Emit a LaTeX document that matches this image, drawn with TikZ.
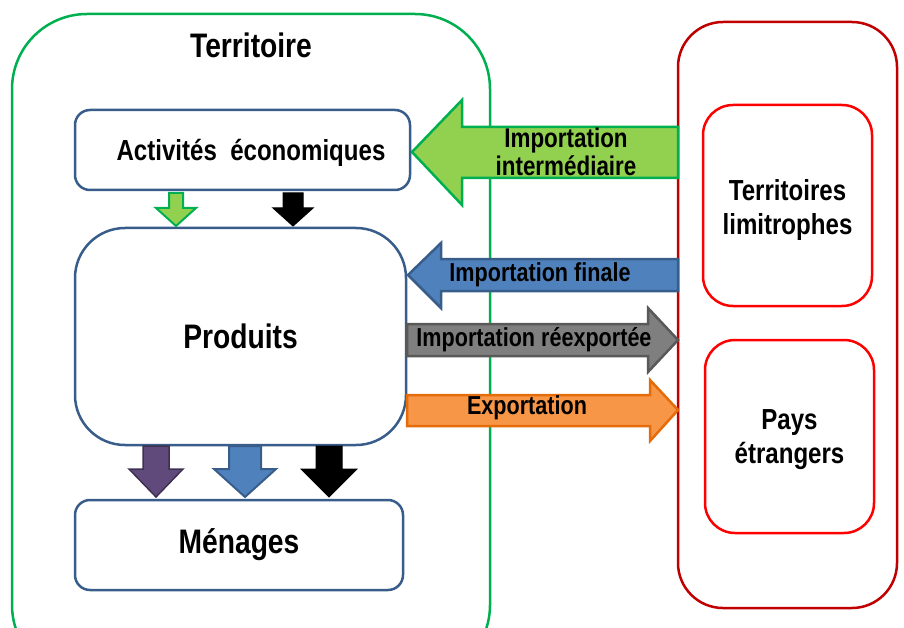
\documentclass[tikz,border=0pt]{standalone}
\usepackage{fontspec}
\setmainfont[FakeStretch=0.83]{Liberation Sans}
\definecolor{terrgreen}{HTML}{00B050}
\definecolor{lightgreen}{HTML}{92D050}
\definecolor{darkred}{HTML}{C00000}
\definecolor{brightred}{HTML}{FF0000}
\definecolor{boxblue}{HTML}{385D8A}
\definecolor{fillblue}{HTML}{4F81BD}
\definecolor{fillgray}{HTML}{7F7F7F}
\definecolor{bordergray}{HTML}{595959}
\definecolor{fillorange}{HTML}{F79646}
\definecolor{borderorange}{HTML}{E46C0A}
\definecolor{fillpurple}{HTML}{604A7B}
\definecolor{borderpurple}{HTML}{3F3151}
\newcommand\dnarrow[7]{% style, cx, top, headstart, tip, shafthalf, headhalf
  \draw[#1] (#2-#6,#3) -- (#2+#6,#3) -- (#2+#6,#4) -- (#2+#7,#4) -- (#2,#5)
    -- (#2-#7,#4) -- (#2-#6,#4) -- cycle;}
\begin{document}
\begin{tikzpicture}[x=1pt,y=-1pt,
  lbl/.style={font=\bfseries\fontsize{26}{28}\selectfont, align=center, inner sep=0pt},
  big/.style={font=\bfseries\fontsize{29}{34}\selectfont, align=center, inner sep=0pt},
  huge/.style={font=\bfseries\fontsize{34}{38}\selectfont, align=center, inner sep=0pt},
  bluebox/.style={draw=boxblue, line width=2.5pt, fill=white, inner sep=0pt},
  redbox/.style={draw=brightred, line width=2.5pt, fill=white, rounded corners=30pt, inner sep=0pt},
  greenarr/.style={fill=lightgreen, draw=terrgreen, line width=2.5pt, line join=miter},
  bluearr/.style={fill=fillblue, draw=boxblue, line width=2.5pt},
  grayarr/.style={fill=fillgray, draw=bordergray, line width=2.5pt},
  orangearr/.style={fill=fillorange, draw=borderorange, line width=2.5pt},
  purplearr/.style={fill=fillpurple, draw=borderpurple, line width=1.5pt},
  blackarr/.style={fill=black, draw=black, line width=1pt},
  smallgreen/.style={fill=lightgreen, draw=terrgreen, line width=2pt}]
\useasboundingbox (0,0) rectangle (904,628);
\clip (0,0) rectangle (904,628);
% Territoire
\draw[terrgreen, line width=2.5pt, rounded corners=75pt] (12,680) rectangle (490,14);
\node[huge] (terr) at (251,45) {Territoire};
% Red outer
\node[draw=darkred, line width=2.5pt, rounded corners=45pt, minimum width=219pt, minimum height=586pt, inner sep=0pt] (outer) at (787.5,315) {};
% Inner boxes
\node[bluebox, rounded corners=15pt, minimum width=335pt, minimum height=80pt] (act) at (242.5,150) {};
\node[big] (acttxt) at (251,153) {Activités\ \ économiques};
\node[bluebox, rounded corners=50pt, minimum width=331pt, minimum height=217pt, huge] (prod) at (240.5,336.5) {Produits};
\node[bluebox, rounded corners=15pt, minimum width=328pt, minimum height=90pt, huge] (men) at (239,545) {Ménages};
\node[redbox, minimum width=169pt, minimum height=201pt] (lim) at (787.5,205.5) {};
\node[big] (limtxt) at (787.5,210) {Territoires\\limitrophes};
\node[redbox, minimum width=169pt, minimum height=193pt] (pays) at (789.5,436.5) {};
\node[big] (paystxt) at (789.5,440) {Pays\\étrangers};
% Big arrows
\draw[greenarr] (678,127) -- (462,127) -- (462,100) -- (412,152) -- (462,205) -- (462,178) -- (678,178) -- cycle;
\node[lbl, font=\bfseries\fontsize{27}{28}\selectfont] (impint) at (566,152) {Importation\\intermédiaire};
\draw[bluearr] (678,259) -- (441,259) -- (441,243) -- (408,275) -- (441,308) -- (441,291) -- (678,291) -- cycle;
\node[lbl] (impfin) at (540,275) {Importation finale};
\draw[grayarr] (407,324) -- (648,324) -- (648,308) -- (678,340) -- (648,372) -- (648,356) -- (407,356) -- cycle;
\node[lbl] (impreex) at (534,340) {Importation réexportée};
\draw[orangearr] (407,395) -- (650,395) -- (650,380) -- (678,410) -- (650,441) -- (650,426) -- (407,426) -- cycle;
\node[lbl] (expo) at (527,408) {Exportation};
% Small arrows between boxes
\dnarrow{smallgreen}{176}{193}{208}{226}{7}{20}
\dnarrow{blackarr}{293}{193}{208}{226}{10}{20}
\dnarrow{purplearr}{156}{446}{469}{497}{13}{27}
\dnarrow{bluearr, line width=2pt}{245}{446}{469}{497}{16}{31}
\dnarrow{blackarr}{329}{446}{469}{497}{13}{28}
\end{tikzpicture}
\end{document}
